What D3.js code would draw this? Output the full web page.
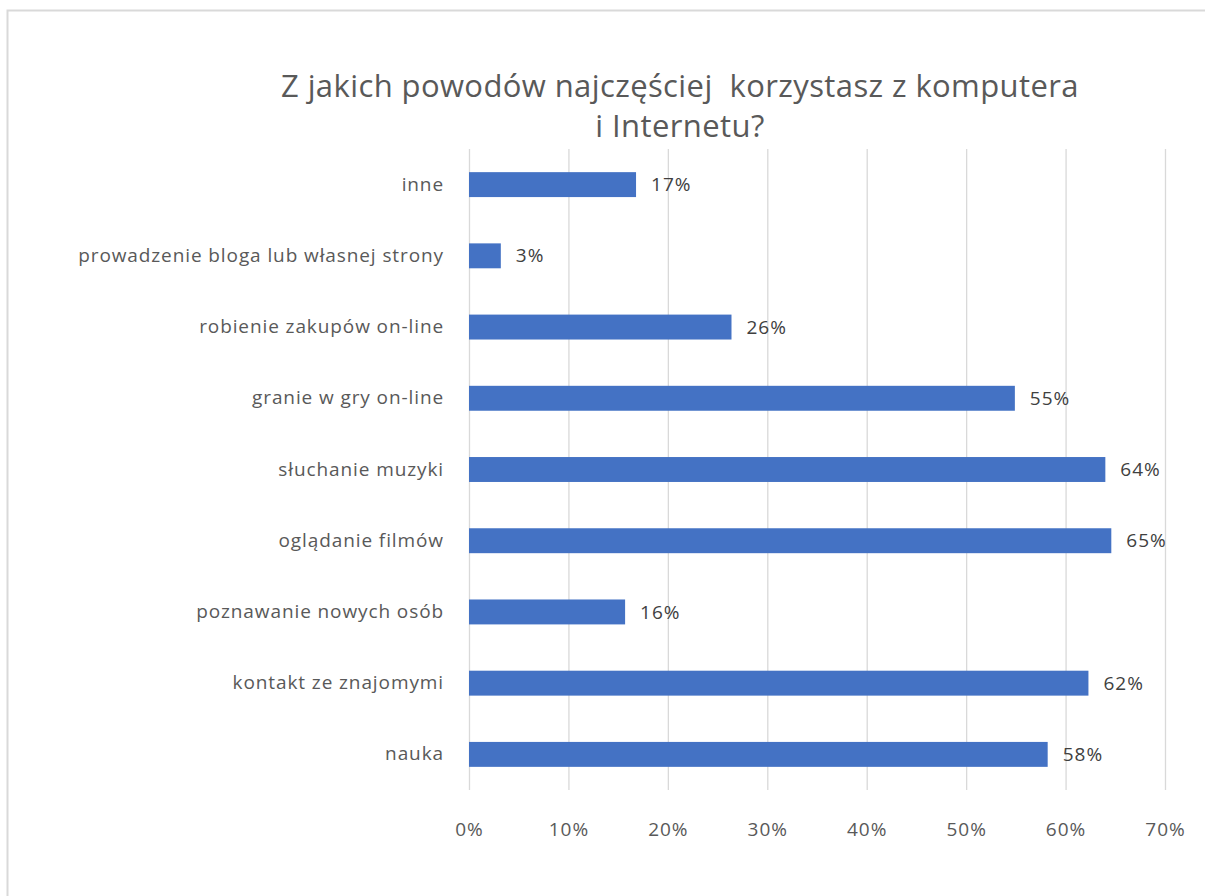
<!DOCTYPE html>
<html>
<head>
<meta charset="utf-8">
<script src="https://cdn.jsdelivr.net/npm/d3@7"></script>
<style>
  body { margin: 0; background: #fff; }
  svg { display: block; }
</style>
</head>
<body>
<script>
var width = 1205;
var height = 896;
var margin = ({top: 149, right: 40, bottom: 106, left: 469});

// categories from top to bottom
var categories = ["inne", "prowadzenie bloga lub własnej strony", "robienie zakupów on-line",
  "granie w gry on-line", "słuchanie muzyki", "oglądanie filmów",
  "poznawanie nowych osób", "kontakt ze znajomymi", "nauka"];
var values = [0.168, 0.032, 0.264, 0.549, 0.640, 0.646, 0.157, 0.623, 0.582];
var ticks = [0, 0.1, 0.2, 0.3, 0.4, 0.5, 0.6, 0.7];
var titleLines = ["Z jakich powodów najczęściej  korzystasz z komputera", "i Internetu?"];

var font = "'Open Sans', sans-serif";
var textColor = "#595959";

var x = d3.scaleLinear()
  .domain([0, 0.7])
  .range([margin.left, 1165]);

var y = d3.scaleBand()
  .domain(categories)
  .range([margin.top, height - margin.bottom])
  .paddingInner(0.65)
  .paddingOuter(0.325);

const svg = d3.select("body").append("svg")
  .attr("width", width)
  .attr("height", height)
  .attr("viewBox", [0, 0, width, height]);

// chart frame
svg.append("rect")
  .attr("x", 7.5).attr("y", 10.5)
  .attr("width", 1240).attr("height", 920)
  .attr("fill", "none")
  .attr("stroke", "#d9d9d9")
  .attr("stroke-width", 2);

// title
svg.append("text")
  .attr("x", 680)
  .attr("y", 97)
  .attr("text-anchor", "middle")
  .attr("fill", textColor)
  .style("font-family", font)
  .style("font-size", "31px")
  .style("letter-spacing", "0.4px")
  .selectAll("tspan")
  .data(titleLines)
  .join("tspan")
    .attr("x", 680)
    .attr("dy", (d, i) => i ? 40 : 0)
    .style("white-space", "pre")
    .text(d => d);

// gridlines
svg.append("g")
  .attr("transform", `translate(0,${height - margin.bottom})`)
  .call(d3.axisBottom(x).tickValues(ticks).tickSize(-(height - margin.top - margin.bottom)).tickFormat(""))
  .call(g => g.select(".domain").remove())
  .call(g => g.selectAll(".tick line").attr("stroke", "#d9d9d9").attr("stroke-width", 1.3));

// x axis labels
svg.append("g")
  .attr("transform", `translate(0,${height - margin.bottom})`)
  .call(d3.axisBottom(x).tickValues(ticks).tickSize(0).tickPadding(33).tickFormat(d3.format(".0%")))
  .call(g => g.select(".domain").remove())
  .call(g => g.selectAll(".tick text")
    .attr("fill", textColor)
    .style("font-family", font)
    .style("font-size", "19px")
    .style("letter-spacing", "1px"));

// y axis labels
svg.append("g")
  .attr("transform", `translate(${margin.left},0)`)
  .call(d3.axisLeft(y).tickSize(0).tickPadding(25))
  .call(g => g.select(".domain").remove())
  .call(g => g.selectAll(".tick text")
    .attr("fill", textColor)
    .style("font-family", font)
    .style("font-size", "19px")
    .style("letter-spacing", "0.9px"));

var data = categories.map((c, i) => ({name: c, value: values[i]}));

svg.append("g")
  .attr("fill", "#4472c4")
  .selectAll("rect")
  .data(data)
  .join("rect")
    .attr("x", x(0))
    .attr("y", d => y(d.name))
    .attr("width", d => x(d.value) - x(0))
    .attr("height", y.bandwidth());

svg.append("g")
  .selectAll("text")
  .data(data)
  .join("text")
    .attr("x", d => x(d.value) + 15)
    .attr("y", d => y(d.name) + y.bandwidth() / 2)
    .attr("dy", "0.35em")
    .attr("fill", "#404040")
    .style("font-family", font)
    .style("font-size", "19px")
    .style("letter-spacing", "1px")
    .text(d => Math.round(d.value * 100) + "%");
</script>
</body>
</html>
